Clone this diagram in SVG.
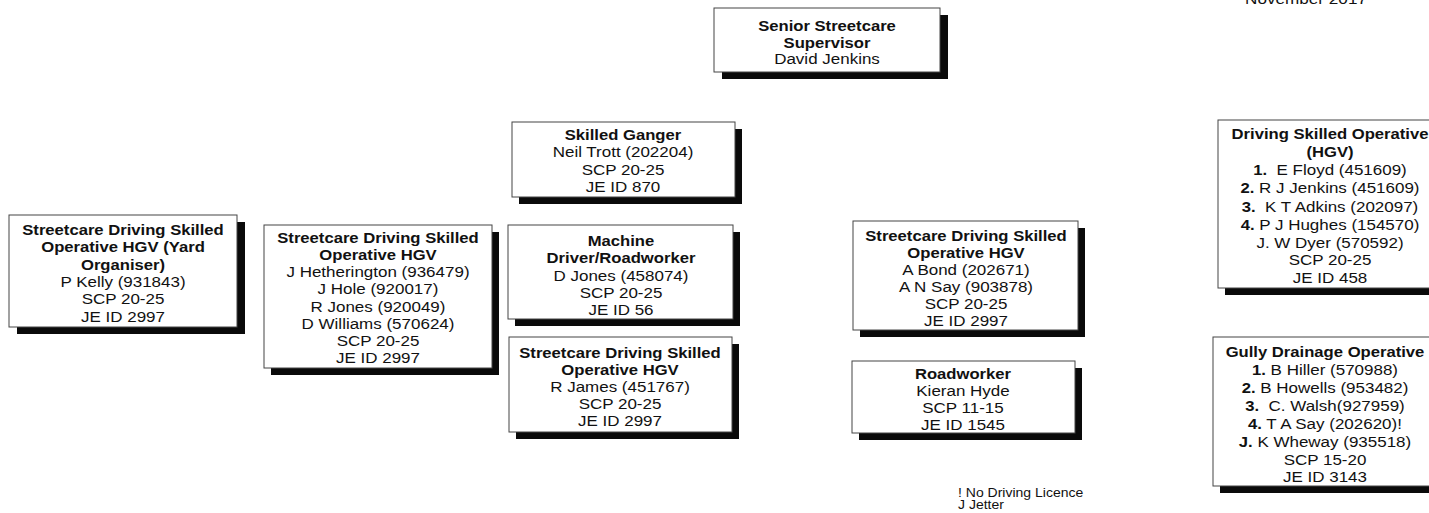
<svg xmlns="http://www.w3.org/2000/svg" width="1429" height="513" viewBox="0 0 1429 513">
<style>
.sh{fill:#0a0a0a}
.bx{fill:#fff;stroke:#444;stroke-width:1}
text{font-family:"Liberation Sans",Arial,sans-serif;font-size:15.3px;fill:#111;text-anchor:middle}
.b{font-weight:bold;font-size:15px}
.fn{font-size:12.5px;text-anchor:start}
</style>
<rect width="1429" height="513" fill="#fff"/>
<g id="connectors"/>
<g id="date"><g transform="translate(1306 0) scale(1.12 1)"><text x="0" y="4">November 2017</text></g></g>

<g id="senior">
<rect class="sh" x="722" y="15" width="226" height="64"/>
<rect class="bx" x="714" y="8" width="226" height="64"/>
<g transform="translate(827 0) scale(1.11 1)">
<text class="b" x="0" y="31.5">Senior Streetcare</text>
<text class="b" x="0" y="48">Supervisor</text>
<text x="0" y="64.5">David Jenkins</text>
</g></g>

<g id="ganger">
<rect class="sh" x="519" y="129" width="223" height="75"/>
<rect class="bx" x="512" y="122" width="223" height="75"/>
<g transform="translate(623 0) scale(1.11 1)">
<text class="b" x="0" y="140">Skilled Ganger</text>
<text x="0" y="157.5">Neil Trott (202204)</text>
<text x="0" y="175">SCP 20-25</text>
<text x="0" y="192.5">JE ID 870</text>
</g></g>

<g id="machine">
<rect class="sh" x="515" y="232" width="225" height="94"/>
<rect class="bx" x="508" y="225" width="225" height="94"/>
<g transform="translate(621 0) scale(1.11 1)">
<text class="b" x="0" y="246">Machine</text>
<text class="b" x="0" y="263.5">Driver/Roadworker</text>
<text x="0" y="281">D Jones (458074)</text>
<text x="0" y="298">SCP 20-25</text>
<text x="0" y="315">JE ID 56</text>
</g></g>

<g id="james">
<rect class="sh" x="516" y="344" width="223" height="95"/>
<rect class="bx" x="509" y="337" width="223" height="95"/>
<g transform="translate(620 0) scale(1.11 1)">
<text class="b" x="0" y="358">Streetcare Driving Skilled</text>
<text class="b" x="0" y="375">Operative HGV</text>
<text x="0" y="392">R James (451767)</text>
<text x="0" y="409.5">SCP 20-25</text>
<text x="0" y="426.5">JE ID 2997</text>
</g></g>

<g id="kelly">
<rect class="sh" x="17" y="222" width="228" height="112"/>
<rect class="bx" x="9" y="215" width="228" height="112"/>
<g transform="translate(123 0) scale(1.11 1)">
<text class="b" x="0" y="235.5">Streetcare Driving Skilled</text>
<text class="b" x="0" y="252.5">Operative HGV (Yard</text>
<text class="b" x="0" y="270">Organiser)</text>
<text x="0" y="287">P Kelly (931843)</text>
<text x="0" y="304.5">SCP 20-25</text>
<text x="0" y="322">JE ID 2997</text>
</g></g>

<g id="hetherington">
<rect class="sh" x="271" y="232" width="228" height="143"/>
<rect class="bx" x="264" y="225" width="228" height="143"/>
<g transform="translate(378 0) scale(1.11 1)">
<text class="b" x="0" y="243.5">Streetcare Driving Skilled</text>
<text class="b" x="0" y="260.5">Operative HGV</text>
<text x="0" y="277.5">J Hetherington (936479)</text>
<text x="0" y="294.5">J Hole (920017)</text>
<text x="0" y="312">R Jones (920049)</text>
<text x="0" y="329">D Williams (570624)</text>
<text x="0" y="346.5">SCP 20-25</text>
<text x="0" y="363.5">JE ID 2997</text>
</g></g>

<g id="bond">
<rect class="sh" x="860" y="228" width="225" height="109"/>
<rect class="bx" x="853" y="221" width="225" height="109"/>
<g transform="translate(966 0) scale(1.11 1)">
<text class="b" x="0" y="241">Streetcare Driving Skilled</text>
<text class="b" x="0" y="258">Operative HGV</text>
<text x="0" y="275.5">A Bond (202671)</text>
<text x="0" y="292.5">A N Say (903878)</text>
<text x="0" y="309.5">SCP 20-25</text>
<text x="0" y="326.5">JE ID 2997</text>
</g></g>

<g id="roadworker">
<rect class="sh" x="859" y="368" width="223" height="72"/>
<rect class="bx" x="852" y="361" width="223" height="72"/>
<g transform="translate(963 0) scale(1.11 1)">
<text class="b" x="0" y="379">Roadworker</text>
<text x="0" y="396">Kieran Hyde</text>
<text x="0" y="413.5">SCP 11-15</text>
<text x="0" y="430.5">JE ID 1545</text>
</g></g>

<g id="hgv">
<rect class="sh" x="1225" y="127" width="230" height="168"/>
<rect class="bx" x="1218" y="120" width="230" height="168"/>
<g transform="translate(1330 0) scale(1.11 1)">
<text class="b" x="0" y="139.5">Driving Skilled Operative</text>
<text class="b" x="0" y="157.5">(HGV)</text>
<text x="0" y="175.5"><tspan class="b">1.</tspan>&#160; E Floyd (451609)</text>
<text x="0" y="193.5"><tspan class="b">2.</tspan> R J Jenkins (451609)</text>
<text x="0" y="212"><tspan class="b">3.</tspan>&#160; K T Adkins (202097)</text>
<text x="0" y="230.5"><tspan class="b">4.</tspan> P J Hughes (154570)</text>
<text x="0" y="248.5">J. W Dyer (570592)</text>
<text x="0" y="265.5">SCP 20-25</text>
<text x="0" y="283.5">JE ID 458</text>
</g></g>

<g id="gully">
<rect class="sh" x="1220" y="344" width="235" height="149"/>
<rect class="bx" x="1213" y="337" width="235" height="149"/>
<g transform="translate(1325 0) scale(1.11 1)">
<text class="b" x="0" y="357.5">Gully Drainage Operative</text>
<text x="0" y="375.5"><tspan class="b">1.</tspan> B Hiller (570988)</text>
<text x="0" y="393.5"><tspan class="b">2.</tspan> B Howells (953482)</text>
<text x="0" y="411.5"><tspan class="b">3.</tspan>&#160; C. Walsh(927959)</text>
<text x="0" y="429"><tspan class="b">4.</tspan> T A Say (202620)!</text>
<text x="0" y="447"><tspan class="b">J.</tspan> K Wheway (935518)</text>
<text x="0" y="465.5">SCP 15-20</text>
<text x="0" y="482.5">JE ID 3143</text>
</g></g>

<g id="footnote">
<g transform="translate(958 0) scale(1.12 1)">
<text class="fn" x="0" y="497">! No Driving Licence</text>
<text class="fn" x="0" y="509.5">J Jetter</text>
</g></g>
</svg>
